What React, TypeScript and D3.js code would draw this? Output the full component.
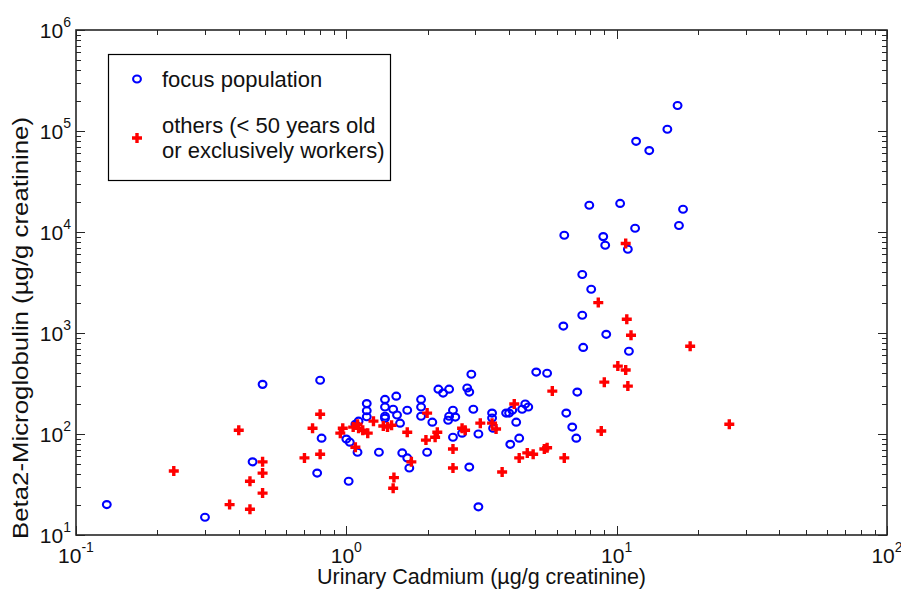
import { useEffect } from 'react';
import * as d3 from 'd3';

// [urinary cadmium, beta2-microglobulin]
const focusPoints: [number, number][] = [
  [0.13, 20], [0.30, 15], [0.45, 53], [0.49, 310], [0.78, 41], [0.80, 340], [0.81, 91],
  [1.02, 34], [1.00, 89], [1.03, 83], [1.10, 66], [1.08, 125], [1.11, 134],
  [1.19, 200], [1.19, 170], [1.19, 148], [1.39, 220], [1.39, 185], [1.39, 150], [1.39, 143],
  [1.53, 237], [1.49, 176], [1.54, 154], [1.58, 128], [1.68, 172], [1.32, 66], [1.61, 65],
  [1.68, 58], [1.71, 46], [1.89, 220], [1.89, 185], [1.89, 150], [1.99, 66], [2.08, 131],
  [2.19, 278], [2.28, 254], [2.40, 278], [2.40, 150], [2.38, 137], [2.53, 147], [2.48, 172],
  [2.48, 93], [2.68, 102], [2.80, 285], [2.85, 260], [2.90, 390], [2.95, 176], [2.85, 47],
  [3.08, 19], [3.08, 100], [3.46, 161], [3.46, 144], [3.49, 114], [3.90, 161], [4.00, 161],
  [4.11, 172], [4.25, 131], [4.47, 176], [4.59, 198], [4.71, 185], [4.04, 79], [4.36, 91],
  [5.04, 410], [5.53, 400], [6.51, 161], [6.85, 117], [7.09, 91], [7.15, 260], [7.52, 720],
  [6.35, 1170], [9.15, 970], [11.1, 660], [7.46, 1500], [8.05, 2710], [7.46, 3800],
  [6.40, 9300], [8.92, 9000], [9.07, 7400], [11.0, 6750], [11.7, 10900], [7.92, 18400],
  [10.3, 19200], [17.6, 16800], [17.0, 11600], [11.8, 79000], [13.2, 64000],
  [15.4, 104000], [16.8, 179000],
];

const otherPoints: [number, number][] = [
  [0.23, 43], [0.40, 109], [0.37, 20], [0.44, 18], [0.44, 34], [0.49, 53], [0.49, 41],
  [0.49, 26], [0.70, 58], [0.80, 157], [0.75, 114], [0.80, 63], [0.97, 114], [0.95, 102],
  [1.06, 117], [1.10, 125], [1.11, 114], [1.15, 109], [1.20, 102], [1.26, 134], [1.08, 74],
  [1.37, 120], [1.42, 117], [1.47, 122], [1.50, 37], [1.49, 29], [1.68, 104], [1.74, 53],
  [1.97, 87], [1.99, 161], [2.13, 93], [2.17, 104], [2.48, 71], [2.48, 46], [2.68, 114],
  [2.75, 109], [3.13, 128], [3.46, 128], [3.58, 112], [3.77, 42], [4.18, 198], [4.36, 58],
  [4.67, 65], [4.91, 63], [5.40, 71], [5.53, 73], [5.78, 266], [6.40, 58], [8.77, 107],
  [9.0, 326], [10.1, 470], [10.8, 430], [11.0, 298], [8.55, 2000], [10.9, 1370],
  [11.3, 950], [18.7, 740], [10.8, 7700], [26.1, 125],
];

const xDecades = [-1, 0, 1, 2];
const yDecades = [1, 2, 3, 4, 5, 6];
const legendLabels = ['focus population', 'others (< 50 years old', 'or exclusively workers)'];
const xTitle = 'Urinary Cadmium (µg/g creatinine)';
const yTitle = 'Beta2-Microglobulin (µg/g creatinine)';

const W = 901, H = 590;
const M = { left: 76, right: 887, top: 30, bottom: 535 };
const FONT = '"Liberation Sans", Arial, sans-serif';
const AXIS = '#262626';
const BLUE = '#0000ff';
const RED = '#ff0000';

const minors = (decades: number[]) =>
  decades.slice(0, -1).flatMap(e => d3.range(2, 10).map(k => k * Math.pow(10, e)));

function Ring({ x, y }: { x: number; y: number }) {
  return <ellipse cx={x} cy={y} rx={3.9} ry={3.5} fill="none" stroke={BLUE} strokeWidth={2.1} />;
}

function Plus({ x, y }: { x: number; y: number }) {
  return (
    <path d={`M${x - 5},${y}H${x + 5}M${x},${y - 5}V${y + 5}`}
      stroke={RED} strokeWidth={3.4} fill="none" />
  );
}

export default function App() {
  useEffect(() => { document.body.style.margin = '0'; }, []);

  const x = d3.scaleLog().domain([0.1, 100]).range([M.left, M.right]);
  const y = d3.scaleLog().domain([10, 1e6]).range([M.bottom, M.top]);

  const xMaj = xDecades.map(e => Math.pow(10, e));
  const yMaj = yDecades.map(e => Math.pow(10, e));
  const xMin = minors(xDecades);
  const yMin = minors(yDecades);
  const MAJ = 9, MIN = 5;

  return (
    <svg width={W} height={H} style={{ display: 'block', background: '#fff' }} fontFamily={FONT}>
      {/* ticks on all four sides, pointing inward */}
      <g stroke={AXIS} strokeWidth={1}>
        {xMaj.concat(xMin).map((v, i) => {
          const len = i < xMaj.length ? MAJ : MIN;
          const px = Math.round(x(v)) + 0.5;
          return (
            <g key={'xt' + i}>
              <line x1={px} x2={px} y1={M.bottom} y2={M.bottom - len} />
              <line x1={px} x2={px} y1={M.top} y2={M.top + len} />
            </g>
          );
        })}
        {yMaj.concat(yMin).map((v, i) => {
          const len = i < yMaj.length ? MAJ : MIN;
          const py = Math.round(y(v)) + 0.5;
          return (
            <g key={'yt' + i}>
              <line x1={M.left} x2={M.left + len} y1={py} y2={py} />
              <line x1={M.right} x2={M.right - len} y1={py} y2={py} />
            </g>
          );
        })}
      </g>
      <rect x={M.left} y={M.top} width={M.right - M.left} height={M.bottom - M.top}
        fill="none" stroke={AXIS} strokeWidth={1.6} />

      {/* tick labels */}
      <g fill="#111" fontSize={21}>
        {xDecades.map(e => (
          <text key={'xl' + e} x={x(Math.pow(10, e))} y={563} textAnchor="middle">
            10<tspan fontSize={14} dy={-11}>{e}</tspan>
          </text>
        ))}
        {yDecades.map(e => (
          <text key={'yl' + e} x={71} y={y(Math.pow(10, e)) + 7.5} textAnchor="end">
            10<tspan fontSize={14} dy={-11}>{e}</tspan>
          </text>
        ))}
      </g>

      {/* axis titles */}
      <text x={(M.left + M.right) / 2} y={584} textAnchor="middle" fontSize={21.5} fill="#111">{xTitle}</text>
      <text transform="translate(28,328) rotate(-90)" textAnchor="middle" fontSize={22} fill="#111"
        textLength={422} lengthAdjust="spacingAndGlyphs">{yTitle}</text>

      {/* data */}
      <g>
        {focusPoints.map(([a, b], i) => <Ring key={'f' + i} x={x(a)} y={y(b)} />)}
        {otherPoints.map(([a, b], i) => <Plus key={'o' + i} x={x(a)} y={y(b)} />)}
      </g>

      {/* legend */}
      <g>
        <rect x={108.5} y={54.5} width={282} height={126} fill="#fff" stroke="#000" strokeWidth={1.2} />
        <Ring x={137} y={79} />
        <Plus x={137} y={138} />
        <g fontSize={22} fill="#111">
          <text x={162} y={87}>{legendLabels[0]}</text>
          <text x={162} y={133}>{legendLabels[1]}</text>
          <text x={162} y={158}>{legendLabels[2]}</text>
        </g>
      </g>
    </svg>
  );
}
